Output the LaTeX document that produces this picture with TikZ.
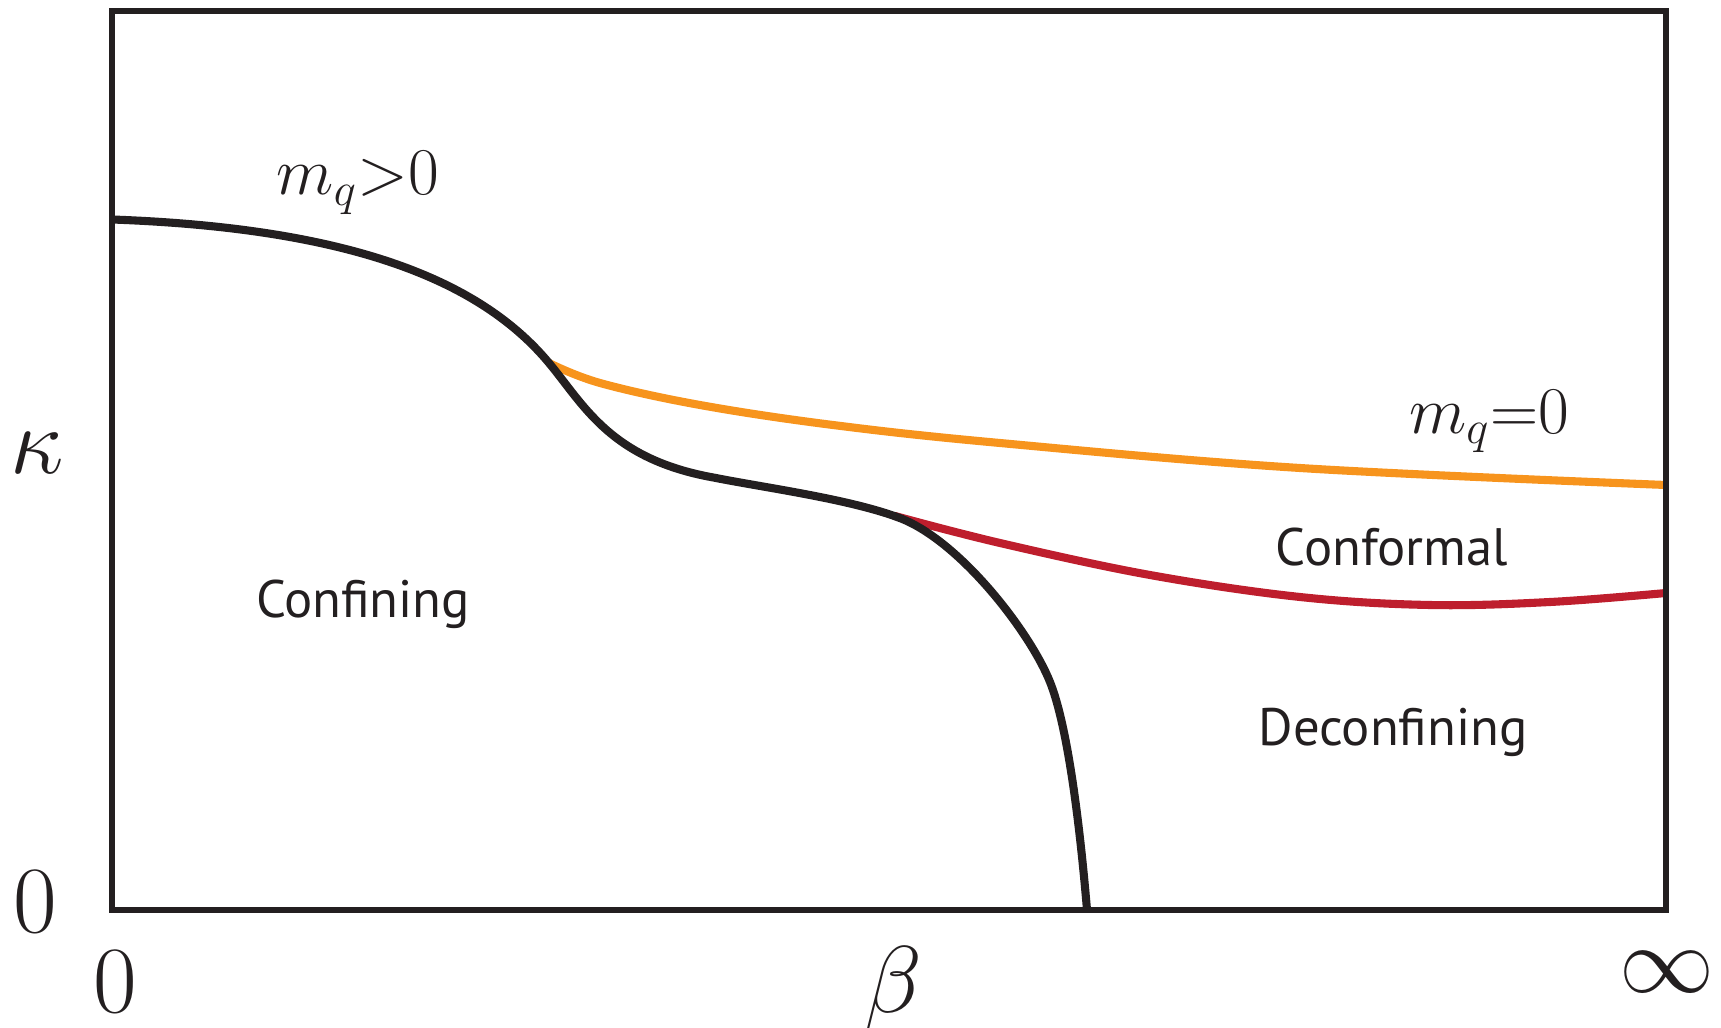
\documentclass[tikz,border=0pt]{standalone}
\usepackage{fix-cm}
\usepackage{fontspec}
\usepackage{tikz}
\newfontfamily\regionfont{PT Sans}
\definecolor{lineblack}{HTML}{231F20}
\definecolor{lineorange}{HTML}{F7941D}
\definecolor{linered}{HTML}{BE1E2D}

\begin{document}
\begin{tikzpicture}[
  frame/.style={draw=lineblack, line width=1.5pt},
  phase/.style={line width=2.3pt},
  axislabel/.style={anchor=base, inner sep=0pt, text=lineblack, font=\fontsize{27}{32}\selectfont},
  masslabel/.style={anchor=base, inner sep=0pt, text=lineblack, font=\fontsize{19}{23}\selectfont},
  region/.style={anchor=base, inner sep=0pt, text=lineblack, font=\regionfont\fontsize{15}{18}\selectfont}]
\useasboundingbox (0,0) rectangle (17.21,10.27);
\coordinate (start) at (1.12,8.075);
\coordinate (split) at (5.49,6.64);
\coordinate (shelf) at (7.134,5.495);
\coordinate (branch) at (9.0,5.089);
\coordinate (elbow) at (10.5,3.45);
\coordinate (foot) at (10.87,1.17);
\draw[phase, draw=linered] plot[smooth, tension=0.6] coordinates {(8.95,5.11) (10.0,4.84) (11.5,4.52) (13.0,4.30) (14.3,4.22) (15.5,4.25) (16.66,4.34)};
\draw[phase, draw=lineorange] plot[smooth, tension=0.6] coordinates {(split) (6.0,6.44) (7.0,6.22) (8.33,6.02) (10.0,5.84) (13.0,5.59) (16.66,5.42)};
\draw[phase, draw=lineblack] (start) .. controls (3.5,7.99) and (4.8,7.47) .. (split)
  .. controls (5.84,6.22) and (6.1,5.68) .. (shelf)
  .. controls (7.634,5.395) and (8.5,5.28) .. (branch)
  .. controls (9.6,4.86) and (10.3,3.95) .. (elbow)
  .. controls (10.68,3.0) and (10.8,2.0) .. (foot);
\draw[frame] (1.12,1.17) rectangle (16.66,10.16);
\node[masslabel] (mpos) at (3.58,8.32) {$m_q{>}0$};
\node[masslabel] (mzero) at (14.89,5.94) {$m_q{=}0$};
\node[region] (conf) at (3.63,4.10) {Confining};
\node[region] (cft) at (13.92,4.62) {Conformal};
\node[region] (deconf) at (13.93,2.82) {Deconfining};
\node[axislabel] (kappa) at (0.37,5.54) {$\kappa$};
\node[axislabel] (kzero) at (0.35,0.95) {$0$};
\node[axislabel] (bzero) at (1.15,0.15) {$0$};
\node[axislabel] (beta) at (8.93,0.15) {$\beta$};
\node[axislabel] (binf) at (16.67,0.35) {$\infty$};
\end{tikzpicture}
\end{document}
